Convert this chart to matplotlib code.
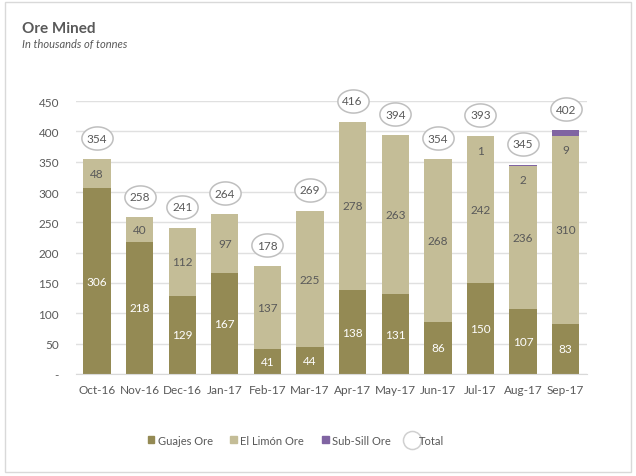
import matplotlib
matplotlib.use("Agg")
import matplotlib.pyplot as plt
from matplotlib.patches import Rectangle, Patch
from matplotlib.lines import Line2D
from matplotlib.path import Path
from matplotlib.transforms import offset_copy
import numpy as np

plt.rcParams['font.family'] = ['Lato', 'DejaVu Sans']

months = ["Oct-16", "Nov-16", "Dec-16", "Jan-17", "Feb-17", "Mar-17",
          "Apr-17", "May-17", "Jun-17", "Jul-17", "Aug-17", "Sep-17"]
guajes = [306, 218, 129, 167, 41, 44, 138, 131, 86, 150, 107, 83]
limon = [48, 40, 112, 97, 137, 225, 278, 263, 268, 242, 236, 310]
subsill = [0, 0, 0, 0, 0, 0, 0, 0, 0, 1, 2, 9]
totals = [354, 258, 241, 264, 178, 269, 416, 394, 354, 393, 345, 402]
yticks = [0, 50, 100, 150, 200, 250, 300, 350, 400, 450]
ytick_labels = ["-", "50", "100", "150", "200", "250", "300", "350", "400", "450"]

c_guajes = "#948A54"
c_limon = "#C4BD97"
c_sub = "#8064A2"
c_text = "#595959"

# ellipse marker (wider than tall) for the total bubbles
t = np.linspace(0, 2 * np.pi, 60)
ellipse = Path(np.column_stack([1.35 * np.cos(t), np.sin(t)]), closed=True)

fig = plt.figure(figsize=(6.36, 4.77), dpi=100)
ax = fig.add_axes([0.119, 0.214, 0.804, 0.572])

x = np.arange(len(months))
w = 0.64
g = np.array(guajes)
l = np.array(limon)
s = np.array(subsill)

ax.bar(x, g, w, color=c_guajes, zorder=2)
ax.bar(x, l, w, bottom=g, color=c_limon, zorder=2)
ax.bar(x, s, w, bottom=g + l, color=c_sub, zorder=2)

bubble_tr = offset_copy(ax.transData, fig=fig, x=0, y=15, units="points")

for i in range(len(months)):
    ax.text(x[i], g[i] / 2, str(guajes[i]), ha="center", va="center",
            color="white", fontsize=8.5, zorder=3)
    ax.text(x[i], g[i] + l[i] / 2, str(limon[i]), ha="center", va="center",
            color=c_text, fontsize=8.5, zorder=3)
    if subsill[i] > 0:
        ax.annotate(str(subsill[i]), (x[i], g[i] + l[i]), xytext=(0, -10),
                    textcoords="offset points", ha="center", va="center",
                    color=c_text, fontsize=8.5, zorder=3)
    ax.annotate(str(totals[i]), (x[i], totals[i]), xytext=(0, 15),
                textcoords="offset points", ha="center", va="center",
                color=c_text, fontsize=8.5, annotation_clip=False, zorder=4)

ax.plot(x, totals, linestyle="none", marker=ellipse, markersize=22.5,
        markerfacecolor="white", markeredgecolor="#BFBFBF", markeredgewidth=1.1,
        clip_on=False, transform=bubble_tr, zorder=3.5)

ax.set_xlim(-0.5, len(months) - 0.5)
ax.set_ylim(0, 450)
ax.set_yticks(yticks)
ax.set_yticklabels(ytick_labels)
ax.set_xticks(x)
ax.set_xticklabels(months)
ax.tick_params(axis="both", length=0, colors=c_text, labelsize=8.5)
ax.tick_params(axis="y", pad=12)
ax.tick_params(axis="x", pad=7)
ax.yaxis.grid(True, color="#E0E0E0", linewidth=1, zorder=0)
ax.set_axisbelow(True)
for sp in ["top", "right", "left"]:
    ax.spines[sp].set_visible(False)
ax.spines["bottom"].set_color("#D9D9D9")

fig.text(0.035, 0.94, "Ore Mined", fontsize=11, fontweight="bold", color=c_text,
         va="center")
fig.text(0.035, 0.907, "In thousands of tonnes", fontsize=8, style="italic",
         color=c_text, va="center")

handles = [Patch(color=c_guajes), Patch(color=c_limon), Patch(color=c_sub),
           Line2D([], [], marker="o", markersize=13, linestyle="none",
                  markerfacecolor="white", markeredgecolor="#D0D0D0",
                  markeredgewidth=1.1)]
fig.legend(handles, ["Guajes Ore", "El Limón Ore", "Sub-Sill Ore", "Total"],
           loc="center", bbox_to_anchor=(0.465, 0.075), ncol=4, frameon=False,
           fontsize=8, labelcolor=c_text, handlelength=0.6, handleheight=0.6,
           handletextpad=0.3, columnspacing=1.6)

fig.patches.append(Rectangle((0.008, 0.008), 0.984, 0.985, transform=fig.transFigure,
                             fill=False, edgecolor="#D9D9D9", linewidth=1))

fig.savefig("out.png", dpi=100)
